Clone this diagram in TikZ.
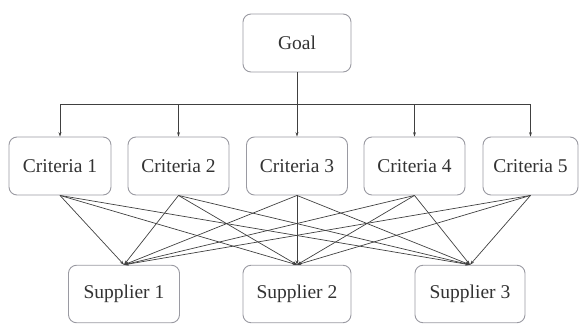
\documentclass[tikz,border=0pt]{standalone}
\usepackage{fontspec}
\setmainfont{Liberation Serif}
\usetikzlibrary{arrows.meta}
\definecolor{boxline}{HTML}{9A9AA2}
\definecolor{conn}{HTML}{404040}
\definecolor{txt}{HTML}{333333}
\begin{document}
\begin{tikzpicture}[x=1pt,y=1pt,
  box/.style={draw=boxline,line width=0.9pt,rounded corners=8pt,fill=white,
    minimum height=58pt,inner sep=0pt,text=txt,font=\fontsize{19.5}{22}\selectfont},
  arr/.style={draw=conn,line width=0.7pt,-{Stealth[length=4.5pt,width=3pt]}},
  ln/.style={draw=conn,line width=0.7pt}]
\useasboundingbox (0,0) rectangle (579,324);
\node[box,minimum width=108pt] (goal) at (297,281) {Goal};
\node[box,minimum width=102pt] (c1) at (60,158) {Criteria 1};
\node[box,minimum width=101pt] (c2) at (178.5,158) {Criteria 2};
\node[box,minimum width=101pt] (c3) at (297,158) {Criteria 3};
\node[box,minimum width=101pt] (c4) at (414.5,158) {Criteria 4};
\node[box,minimum width=95pt] (c5) at (530.5,158) {Criteria 5};
\node[box,minimum width=111pt,minimum height=57.5pt] (s1) at (124,30) {Supplier 1};
\node[box,minimum width=108pt,minimum height=57.5pt] (s2) at (297,30) {Supplier 2};
\node[box,minimum width=110pt,minimum height=57.5pt] (s3) at (470,30) {Supplier 3};
\coordinate (bar) at (297,220);
\draw[ln] (goal.south) -- (bar);
\foreach \c in {c1,c2,c3,c4,c5}{
  \draw[arr] (bar) -| (\c.north);
}
\foreach \c in {c1,c2,c3,c4,c5}{
  \foreach \s in {s1,s2,s3}{
    \draw[arr] (\c.south) -- (\s.north);
  }
}
\end{tikzpicture}
\end{document}
